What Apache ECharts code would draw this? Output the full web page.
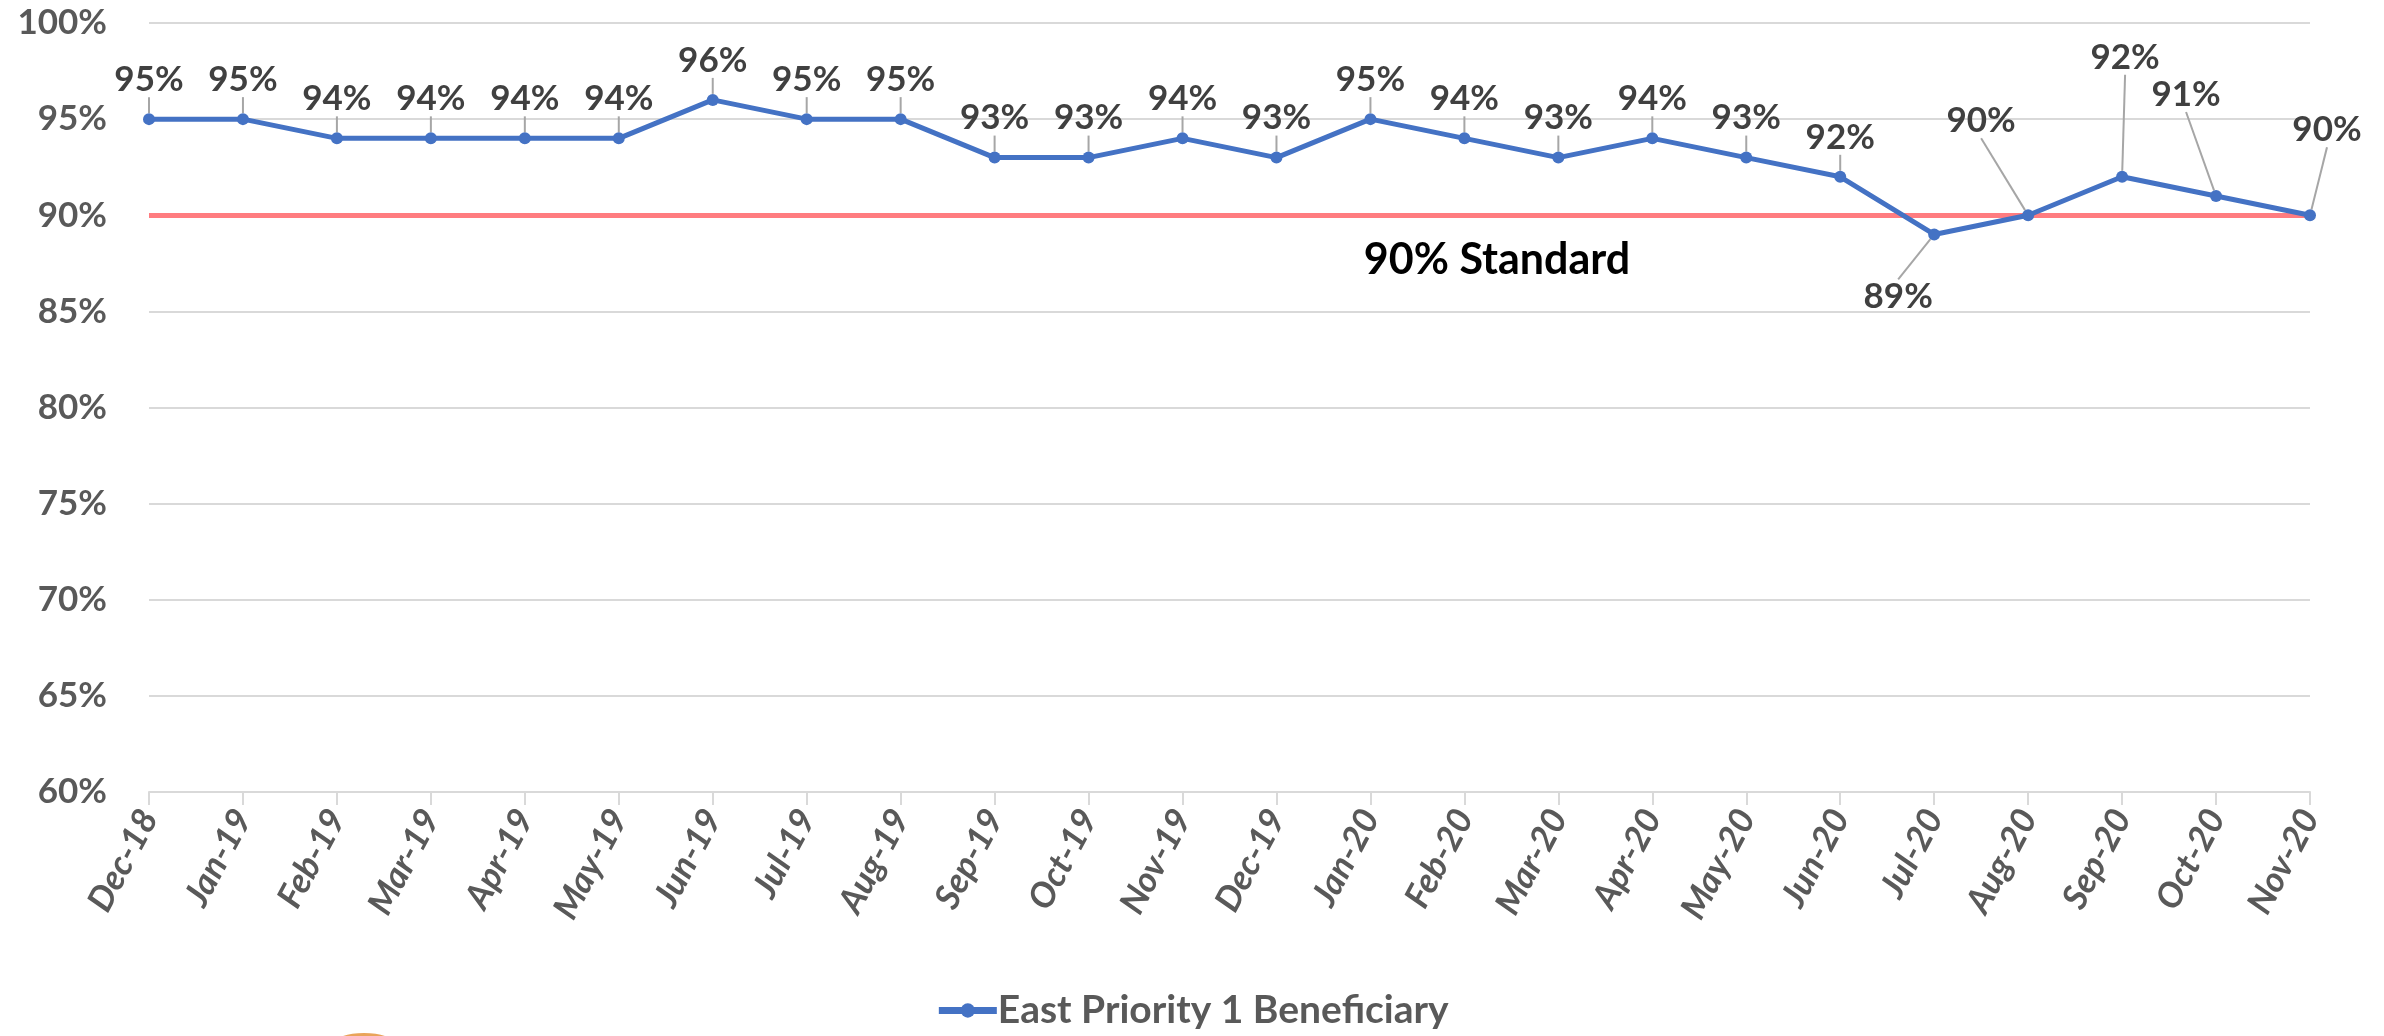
<!DOCTYPE html>
<html>
<head>
<meta charset="utf-8">
<script src="https://cdn.jsdelivr.net/npm/echarts@6/dist/echarts.min.js"></script>
<style>
  html, body { margin: 0; padding: 0; background: #fff; }
  #chart { width: 2384px; height: 1036px; }
</style>
</head>
<body>
<div id="chart"></div>
<script>
// categories (months)
var months = ['Dec-18','Jan-19','Feb-19','Mar-19','Apr-19','May-19','Jun-19','Jul-19','Aug-19',
  'Sep-19','Oct-19','Nov-19','Dec-19','Jan-20','Feb-20','Mar-20','Apr-20','May-20','Jun-20',
  'Jul-20','Aug-20','Sep-20','Oct-20','Nov-20'];
// percentage values
var eastP1 = [95,95,94,94,94,94,96,95,95,93,93,94,93,95,94,93,94,93,92,89,90,92,91,90];
var standard = 90;
var yTicks = [60, 65, 70, 75, 80, 85, 90, 95, 100];

// label nudges for the crowded end of the series (index -> [dx, dy])
var labelShift = {
  19: [-36, 102],
  20: [-47, -55],
  21: [3, -80],
  22: [-30, -62],
  23: [17, -46]
};

var chart = echarts.init(document.getElementById('chart'));

var font = 'Lato, "Open Sans", sans-serif';

var option = {
  animation: false,
  grid: { left: 149, right: 74, top: 23, bottom: 244 },
  legend: {
    bottom: 1,
    left: 'center',
    itemWidth: 58,
    itemHeight: 18,
    itemGap: 4,
    data: ['East Priority 1 Beneficiary'],
    lineStyle: { width: 7 },
    textStyle: { color: '#595959', fontSize: 39, fontWeight: 'bold', fontFamily: font, padding: [0, 0, 0, -4] }
  },
  xAxis: {
    type: 'category',
    data: months,
    boundaryGap: false,
    axisLine: { lineStyle: { color: '#D9D9D9', width: 2 } },
    axisTick: { show: true, length: 13, lineStyle: { color: '#D9D9D9', width: 2 } },
    axisLabel: {
      rotate: 62,
      margin: 20,
      color: '#595959',
      fontSize: 35,
      fontWeight: 'bold',
      fontStyle: 'italic',
      fontFamily: font
    }
  },
  yAxis: {
    type: 'value',
    min: yTicks[0],
    max: yTicks[yTicks.length - 1],
    interval: 5,
    axisLine: { show: false },
    axisTick: { show: false },
    splitLine: { lineStyle: { color: '#D9D9D9', width: 2 } },
    axisLabel: {
      margin: 42,
      color: '#595959',
      fontSize: 35,
      fontWeight: 'bold',
      fontFamily: font,
      formatter: '{value}%'
    }
  },
  series: [{
    name: 'East Priority 1 Beneficiary',
    type: 'line',
    data: eastP1,
    symbol: 'circle',
    symbolSize: 12,
    z: 3,
    lineStyle: { color: '#4472C4', width: 5 },
    itemStyle: { color: '#4472C4' },
    label: {
      show: true,
      position: 'top',
      distance: 16,
      color: '#404040',
      fontSize: 35,
      fontWeight: 'bold',
      fontFamily: font,
      formatter: '{c}%'
    },
    labelLine: {
      show: true,
      lineStyle: { color: '#A6A6A6', width: 2 }
    },
    labelLayout: function (p) {
      var s = labelShift[p.dataIndex];
      if (!s) return {};
      return { dx: s[0], dy: s[1] };
    },
    markLine: {
      silent: true,
      symbol: 'none',
      z: 2,
      label: { show: false },
      lineStyle: { color: '#FF7C80', width: 5, type: 'solid', opacity: 1 },
      data: [{ yAxis: standard }]
    }
  }],
  graphic: [
    {
      type: 'text',
      x: 1497,
      y: 260,
      style: {
        text: '90% Standard',
        fill: '#000',
        font: 'bold 43px ' + font,
        align: 'center',
        verticalAlign: 'middle'
      }
    },
    {
      type: 'ellipse',
      shape: { cx: 364, cy: 1042, rx: 28, ry: 9 },
      style: { fill: '#E9A45A' }
    }
  ]
};

chart.setOption(option);
</script>
</body>
</html>
